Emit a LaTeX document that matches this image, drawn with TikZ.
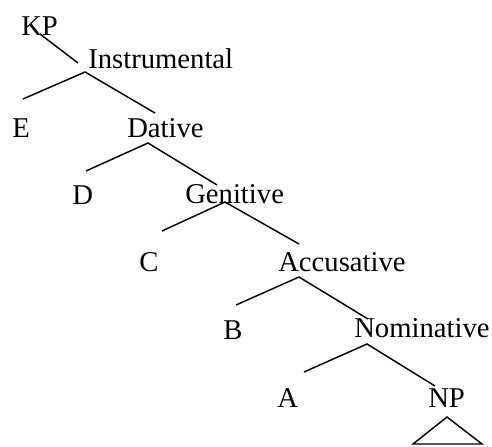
\documentclass[tikz,border=0pt]{standalone}
\usepackage{fontspec}
\setmainfont{Liberation Serif}
\begin{document}
\begin{tikzpicture}[x=0.75pt,y=-0.75pt,
  lbl/.style={anchor=base west,inner sep=0pt,font=\fontsize{21.5pt}{24pt}\selectfont},
  edge/.style={line width=1.1pt}]
\useasboundingbox (0,0) rectangle (492,446);
% labels
\node[lbl] (kp) at (21,35) {KP};
\node[lbl] (instr) at (88,68) {Instrumental};
\node[lbl] (e) at (12,137) {E};
\node[lbl] (dat) at (127,137) {Dative};
\node[lbl] (d) at (72,204) {D};
\node[lbl] (gen) at (185,203) {Genitive};
\node[lbl] (c) at (139,271) {C};
\node[lbl] (acc) at (278,271) {Accusative};
\node[lbl] (b) at (223,339) {B};
\node[lbl] (nom) at (354,337) {Nominative};
\node[lbl] (a) at (277,407) {A};
\node[lbl] (np) at (428,407) {NP};
% branch points
\coordinate (kpL) at (40,34);
\coordinate (instrT) at (78,63);
\coordinate (instrB) at (85,72);
\coordinate (eT) at (23,99);
\coordinate (datT) at (155,113);
\coordinate (datB) at (148,143);
\coordinate (dT) at (86,171);
\coordinate (genT) at (217,185);
\coordinate (genB) at (225,202);
\coordinate (cT) at (162,231);
\coordinate (accT) at (299,244);
\coordinate (accB) at (299,277);
\coordinate (bT) at (236,305);
\coordinate (nomT) at (368,319);
\coordinate (nomB) at (367,344);
\coordinate (aT) at (304,372);
\coordinate (npT) at (435,386);
\coordinate (triA) at (447,417);
\coordinate (triL) at (413,444);
\coordinate (triR) at (482,444);
% edges
\draw[edge] (kpL) -- (instrT);
\draw[edge] (eT) -- (instrB) -- (datT);
\draw[edge] (dT) -- (datB) -- (genT);
\draw[edge] (cT) -- (genB) -- (accT);
\draw[edge] (bT) -- (accB) -- (nomT);
\draw[edge] (aT) -- (nomB) -- (npT);
\draw[edge] (triL) -- (triA) -- (triR) -- cycle;
\end{tikzpicture}
\end{document}
